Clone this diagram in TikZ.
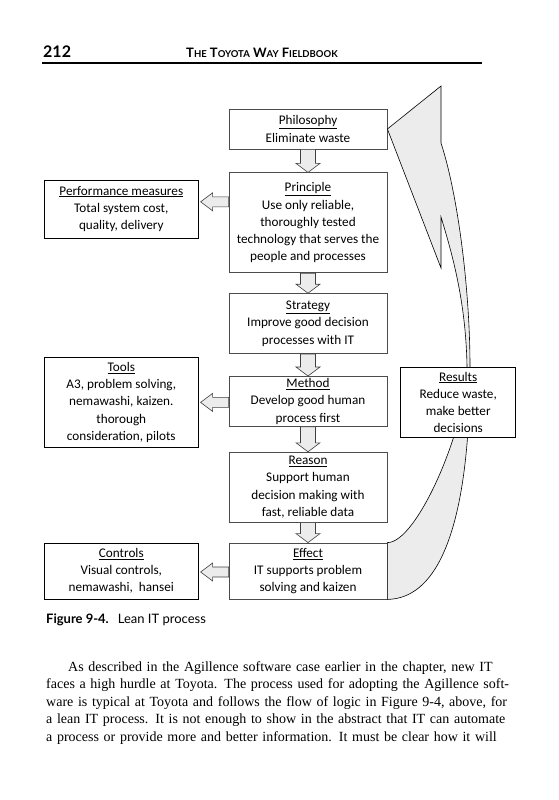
\documentclass[tikz,border=0pt]{standalone}
\usepackage{fontspec}
\setmainfont{Liberation Serif}
\newfontfamily\boxfont{Carlito}
\newfontfamily\headfont{Lato}
\usetikzlibrary{positioning,calc}
\tikzset{step-box/.style={draw=black!70, line width=0.8pt, fill=white, minimum width=158pt, inner xsep=2pt, inner ysep=2pt, align=center, font=\boxfont\fontsize{13.2}{17.2}\selectfont}}
\tikzset{side-box/.style={step-box, draw=black, line width=0.6pt, minimum width=154pt}}
\tikzset{result-box/.style={side-box, minimum width=115pt, minimum height=70pt}}
\tikzset{block-arrow/.style={draw=black!75, fill=gray!15, line width=0.6pt}}
\tikzset{big-arrow/.style={draw=black, fill=gray!15, line width=0.6pt}}
\newcommand{\lowcaps}[1]{{\fontsize{9.5}{11}\selectfont #1}}
\newcommand{\blockdown}[2]{
    \draw[block-arrow] let \p1=(#1.south), \p2=(#2.north) in
        (\x1-7.5pt,\y1) -- (\x1+7.5pt,\y1) -- (\x1+7.5pt,\y2+9pt) -- (\x1+12pt,\y2+9pt)
        -- (\x1,\y2) -- (\x1-12pt,\y2+9pt) -- (\x1-7.5pt,\y2+9pt) -- cycle;
}
\newcommand{\blockleft}[3]{
    \draw[block-arrow] let \p1=(#1.west), \p2=($(#2.east)+(0,#3)$) in
        (\x1,\y2+5pt) -- (\x2+14pt,\y2+5pt) -- (\x2+14pt,\y2+9pt) -- (\x2+2pt,\y2)
        -- (\x2+14pt,\y2-9pt) -- (\x2+14pt,\y2-5pt) -- (\x1,\y2-5pt) -- cycle;
}

\begin{document}
\begin{tikzpicture}[x=1pt, y=-1pt]
    \fill[white] (0,0) rectangle (558,800);
    \useasboundingbox (0,0) rectangle (558,800);

    % page header
    \node[anchor=base west, inner sep=0, font=\headfont\bfseries\fontsize{16}{18}\selectfont] (page-num) at (43,57) {212};
    \node[anchor=base, inner sep=0, font=\headfont\bfseries\fontsize{13}{15}\selectfont] (page-title) at (262,57)
        {T\lowcaps{HE} T\lowcaps{OYOTA} W\lowcaps{AY} F\lowcaps{IELDBOOK}};
    \draw[line width=2pt] (42,63.5) -- (482,63.5);

    % main column
    \node[step-box, minimum height=40pt] (phil) at (308,129) {\underline{Philosophy}\\Eliminate waste};
    \node[step-box, minimum height=100pt, below=23pt of phil] (prin)
        {\underline{Principle}\\Use only reliable,\\thoroughly tested\\technology that serves the\\people and processes};
    \node[step-box, minimum height=60pt, below=20pt of prin] (strat)
        {\underline{Strategy}\\Improve good decision\\processes with IT};
    \node[step-box, minimum height=50pt, below=22pt of strat] (meth)
        {\underline{Method}\\Develop good human\\process first};
    \node[step-box, minimum height=70pt, below=25pt of meth] (reas)
        {\underline{Reason}\\Support human\\decision making with\\fast, reliable data};
    \node[step-box, minimum height=56pt, below=20pt of reas] (eff)
        {\underline{Effect}\\IT supports problem\\solving and kaizen};

    % side boxes
    \node[side-box, minimum height=58pt, left=30pt of prin, yshift=14pt] (perf)
        {\underline{Performance measures}\\Total system cost,\\quality, delivery};
    \node[side-box, minimum height=90pt, left=30pt of meth, yshift=-1pt] (tools)
        {\underline{Tools}\\A3, problem solving,\\nemawashi, kaizen.\\thorough\\consideration, pilots};
    \node[side-box, minimum height=56pt, left=30pt of eff] (ctrl)
        {\underline{Controls}\\Visual controls,\\nemawashi,\ \ hansei};

    % feedback arrow
    \path[big-arrow] (phil.east) -- (441,86) -- (441,143)
        .. controls (458,195) and (470,290) .. (470,367)
        .. controls (470,467) and (457,598) .. (eff.south east)
        -- (eff.north east)
        .. controls (417,543) and (467,427) .. (467,367)
        .. controls (466,300) and (451,250) .. (441,217)
        -- (441,268) -- cycle;
    \node[result-box, right=13pt of meth, yshift=-1pt] (results)
        {\underline{Results}\\Reduce waste,\\make better\\decisions};

    % block arrows
    \blockdown{phil}{prin}
    \blockdown{prin}{strat}
    \blockdown{strat}{meth}
    \blockdown{meth}{reas}
    \blockdown{reas}{eff}
    \blockleft{prin}{perf}{7pt}
    \blockleft{meth}{tools}{0pt}
    \blockleft{eff}{ctrl}{-1pt}

    % caption and text
    \node[anchor=base west, inner sep=0, font=\headfont\fontsize{13}{15}\selectfont] (caption) at (46,623)
        {\textbf{Figure 9-4.}\hspace{9pt}Lean IT process};
    \node[anchor=base west, inner sep=0, text width=467pt, font=\fontsize{14}{17.5}\selectfont] (body) at (46,671) {%
        \hbox to\linewidth{\hspace{22pt}As described in the Agillence software case earlier in the chapter, new IT}
        \hbox to\linewidth{faces a high hurdle at Toyota. The process used for adopting the Agillence soft-}
        \hbox to\linewidth{ware is typical at Toyota and follows the flow of logic in Figure 9-4, above, for}
        \hbox to\linewidth{a lean IT process. It is not enough to show in the abstract that IT can automate}
        \hbox to\linewidth{a process or provide more and better information. It must be clear how it will}};
\end{tikzpicture}
\end{document}
